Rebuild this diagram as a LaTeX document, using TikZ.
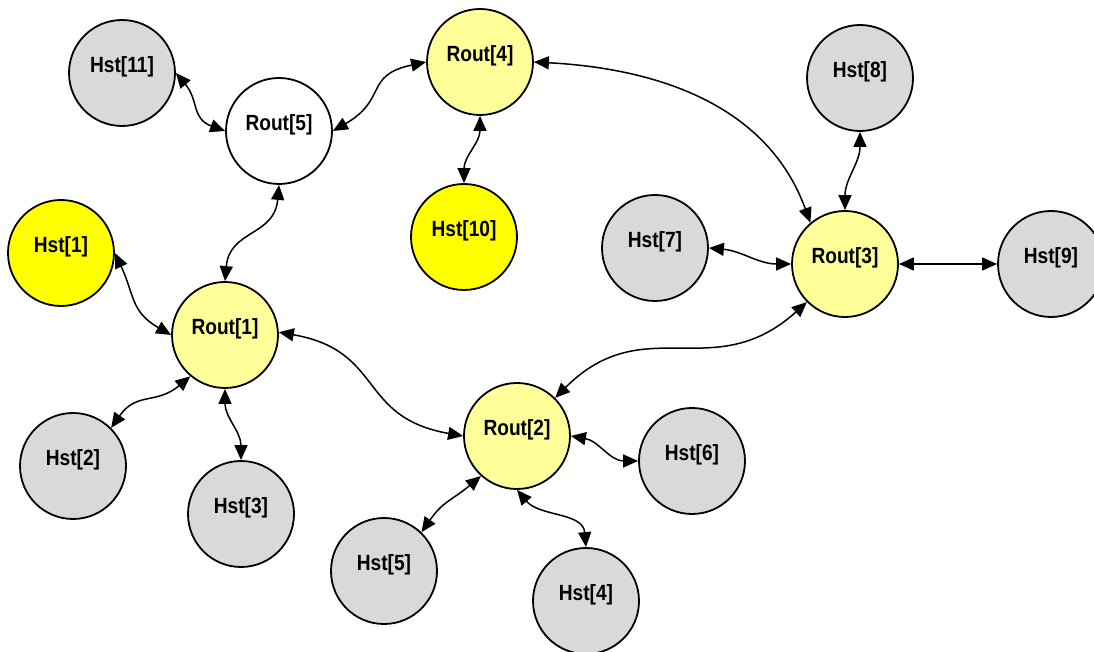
\documentclass[tikz,border=0pt]{standalone}
\usepackage{fontspec}
\newfontfamily\labfont[FakeStretch=0.87]{Liberation Sans}
\usetikzlibrary{arrows.meta}
\definecolor{hgray}{RGB}{217,217,217}
\definecolor{lyel}{RGB}{255,255,153}
\definecolor{byel}{RGB}{255,255,0}
\begin{document}
\begin{tikzpicture}[x=1pt,y=1pt,
  nd/.style={circle,draw=black,line width=1.8pt,minimum size=106pt,inner sep=0pt,
    text height=0pt,text depth=0pt,font=\labfont\bfseries\fontsize{22}{24}\selectfont},
  hst/.style={nd,fill=hgray},
  hsty/.style={nd,fill=byel},
  rt/.style={nd,fill=lyel},
  rtw/.style={nd,fill=white},
  link/.style={line width=1.5pt,
    {Triangle[length=15pt,width=13pt]}-{Triangle[length=15pt,width=13pt]}}]
\clip (0,0) rectangle (1094,652);
\fill[white] (0,0) rectangle (1094,652);
% nodes
\node[hst]  (h11) at (122,579) {Hst[11]};
\node[rtw]  (r5)  at (279,521) {Rout[5]};
\node[rt]   (r4)  at (480,590) {Rout[4]};
\node[hsty] (h10) at (464,415) {Hst[10]};
\node[hst]  (h8)  at (860,574) {Hst[8]};
\node[hst]  (h7)  at (655,404) {Hst[7]};
\node[rt]   (r3)  at (845,388) {Rout[3]};
\node[hst]  (h9)  at (1051,388) {Hst[9]};
\node[hsty] (h1)  at (61,399) {Hst[1]};
\node[rt]   (r1)  at (225,317) {Rout[1]};
\node[hst]  (h2)  at (73,186) {Hst[2]};
\node[hst]  (h3)  at (241,138) {Hst[3]};
\node[rt]   (r2)  at (517,216) {Rout[2]};
\node[hst]  (h6)  at (692,191) {Hst[6]};
\node[hst]  (h5)  at (384,81) {Hst[5]};
\node[hst]  (h4)  at (586,51) {Hst[4]};
% connectors
\draw[link] (h11.0) to[out=-50,in=160,looseness=1.2] (r5.180);
\draw[link] (r5.0) to[out=30,in=192,looseness=1.4] (r4.180);
\draw[link] (r4.270) to[out=-90,in=90] (h10.90);
\draw[link] (r4.0) to[out=-3,in=110] (r3.130);
\draw[link] (h8.270) to[out=-90,in=90] (r3.90);
\draw[link] (h7.0) to[out=-5,in=180] (r3.180);
\draw[link] (r3.0) -- (h9.180);
\draw[link] (r3.225) to[out=222,in=45,looseness=1.2] (r2.45);
\draw[link] (r1.3) to[out=-10,in=170,looseness=1.3] (r2.180);
\draw[link] (h1.0) to[out=-65,in=150,looseness=1.2] (r1.180);
\draw[link] (r5.270) to[out=-95,in=85,looseness=1.2] (r1.90);
\draw[link] (r1.230) to[out=220,in=55,looseness=1.2] (h2.45);
\draw[link] (r1.270) to[out=-90,in=90] (h3.90);
\draw[link] (r2.228) to[out=220,in=55,looseness=1.2] (h5.46);
\draw[link] (r2.270) to[out=-50,in=95] (h4.90);
\draw[link] (r2.0) to[out=-10,in=180] (h6.180);
\end{tikzpicture}
\end{document}
